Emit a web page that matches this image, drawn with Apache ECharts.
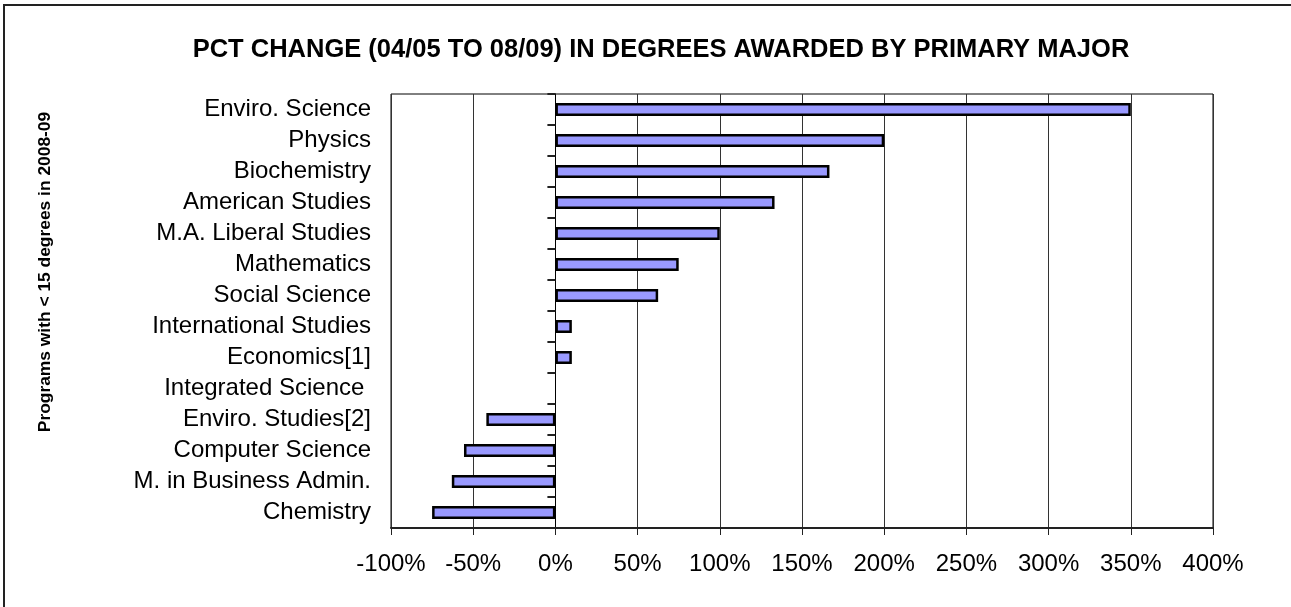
<!DOCTYPE html>
<html>
<head>
<meta charset="utf-8">
<script src="https://cdn.jsdelivr.net/npm/echarts@6/dist/echarts.min.js"></script>
<style>
html,body{margin:0;padding:0;background:#fff;}
#chart{width:1291px;height:607px;}
</style>
</head>
<body>
<div id="chart"></div>
<script>
const categories = [
  "Enviro. Science",
  "Physics",
  "Biochemistry",
  "American Studies",
  "M.A. Liberal Studies",
  "Mathematics",
  "Social Science",
  "International Studies",
  "Economics[1]",
  "Integrated Science ",
  "Enviro. Studies[2]",
  "Computer Science",
  "M. in Business Admin.",
  "Chemistry"
];
const pctChange = [350, 200, 166.7, 133.3, 100, 75, 62.5, 10, 10, 0, -42, -55.6, -63, -75];
const xTicks = { min: -100, max: 400, interval: 50 };
const titleText = "PCT CHANGE (04/05 TO 08/09) IN DEGREES AWARDED BY PRIMARY MAJOR";
const yAxisTitle = "Programs with < 15 degrees in 2008-09";

const FONT = "'Liberation Sans', Arial, sans-serif";
const barData = pctChange.map(v => v === 0 ? { value: v, itemStyle: { borderWidth: 0 } } : v);
const chart = echarts.init(document.getElementById('chart'), null, {renderer: 'canvas'});
chart.setOption({
  backgroundColor: '#fff',
  animation: false,
  graphic: [
    { type: 'rect', x: 4, y: 5, shape: { x: 0, y: 0, width: 1320, height: 700 },
      style: { fill: 'none', stroke: '#222', lineWidth: 2 }, silent: true, z: 0 },
    { type: 'text', x: 661, y: 50,
      style: { text: titleText, font: 'bold 25.5px ' + FONT, fill: '#000',
               textAlign: 'center', textVerticalAlign: 'middle' } },
    { type: 'text', x: 45, y: 272, rotation: Math.PI / 2,
      style: { text: yAxisTitle, font: 'bold 17.4px ' + FONT, fill: '#000',
               textAlign: 'center', textVerticalAlign: 'middle' } }
  ],
  grid: { left: 391, right: 78, top: 94, bottom: 79, show: true,
          borderColor: '#000', borderWidth: 1, backgroundColor: 'transparent', containLabel: false },
  xAxis: {
    type: 'value', min: xTicks.min, max: xTicks.max, interval: xTicks.interval,
    axisLine: { show: true, onZero: false, lineStyle: { color: '#222', width: 2 } },
    axisTick: { show: true, length: 7, lineStyle: { color: '#222', width: 1 } },
    axisLabel: { formatter: '{value}%', color: '#000', fontSize: 24, fontFamily: FONT, margin: 24 },
    splitLine: { show: true, lineStyle: { color: '#333', width: 1 } }
  },
  yAxis: [
    {
      type: 'category', data: categories, inverse: true, position: 'left',
      axisLine: { show: false, onZero: false },
      axisTick: { show: false },
      axisLabel: { color: '#000', fontSize: 24, fontFamily: FONT, margin: 20, interval: 0, hideOverlap: false },
      splitLine: { show: false }
    },
    {
      type: 'category', data: categories, inverse: true, position: 'left',
      axisLine: { show: true, onZero: true, lineStyle: { color: '#000', width: 1 } },
      axisTick: { show: true, length: 8, interval: 0, lineStyle: { color: '#222', width: 2 } },
      axisLabel: { show: false },
      splitLine: { show: false }
    }
  ],
  series: [{
    type: 'bar', yAxisIndex: 0, data: barData, barWidth: 13,
    itemStyle: { color: '#9999FF', borderColor: '#000', borderWidth: 2.5 },
    silent: true
  }]
});
</script>
</body>
</html>
